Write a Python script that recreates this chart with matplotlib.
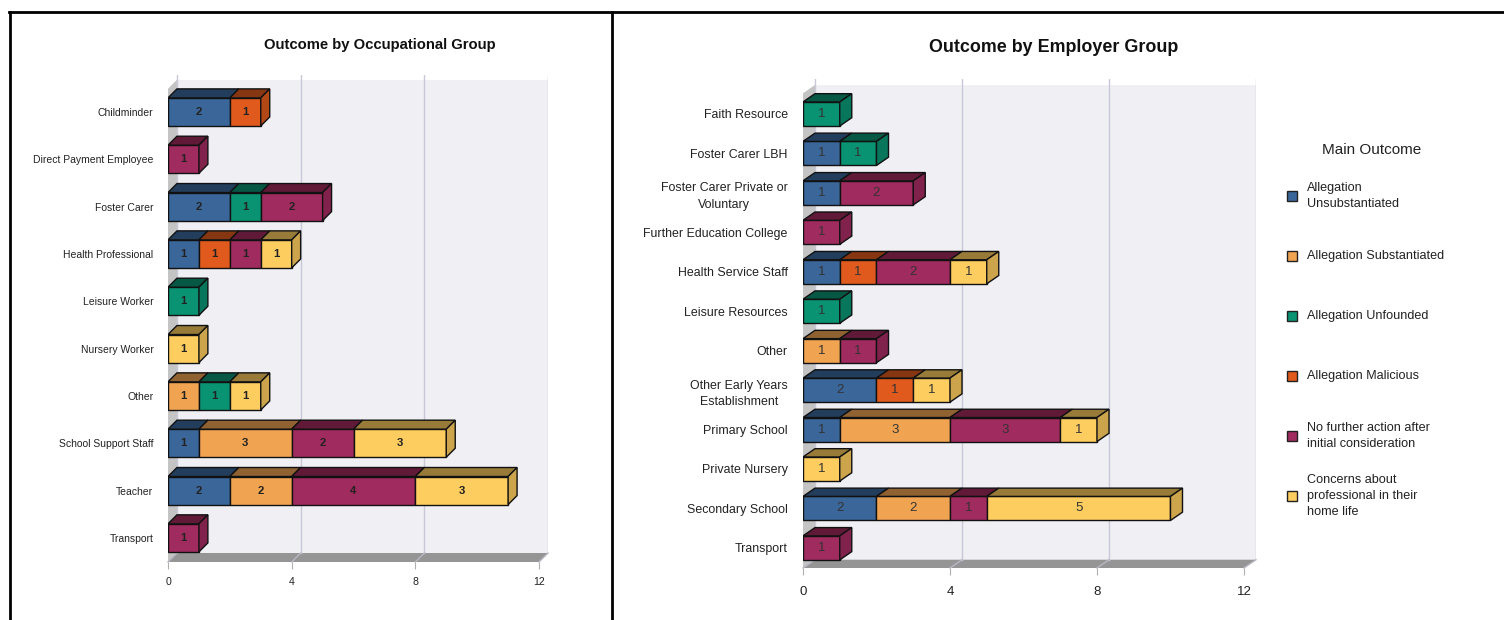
import numpy as np
import matplotlib.pyplot as plt
from matplotlib.patches import Polygon, Rectangle
from matplotlib.lines import Line2D

# dati: Outcome by Occupational Group
occ_groups = ["Childminder", "Direct Payment Employee", "Foster Carer", "Health Professional",
              "Leisure Worker", "Nursery Worker", "Other", "School Support Staff", "Teacher", "Transport"]
occ_unsub = [2, 0, 2, 1, 0, 0, 0, 1, 2, 0]
occ_subst = [0, 0, 0, 0, 0, 0, 1, 3, 2, 0]
occ_unfound = [0, 0, 1, 0, 1, 0, 1, 0, 0, 0]
occ_malic = [1, 0, 0, 1, 0, 0, 0, 0, 0, 0]
occ_nfa = [0, 1, 2, 1, 0, 0, 0, 2, 4, 1]
occ_home = [0, 0, 0, 1, 0, 1, 1, 3, 3, 0]

# dati: Outcome by Employer Group
emp_groups = ["Faith Resource", "Foster Carer LBH", "Foster Carer Private or\nVoluntary",
              "Further Education College", "Health Service Staff", "Leisure Resources", "Other",
              "Other Early Years\nEstablishment", "Primary School", "Private Nursery",
              "Secondary School", "Transport"]
emp_unsub = [0, 1, 1, 0, 1, 0, 0, 2, 1, 0, 2, 0]
emp_subst = [0, 0, 0, 0, 0, 0, 1, 0, 3, 0, 2, 0]
emp_unfound = [1, 1, 0, 0, 0, 1, 0, 0, 0, 0, 0, 0]
emp_malic = [0, 0, 0, 0, 1, 0, 0, 1, 0, 0, 0, 0]
emp_nfa = [0, 0, 2, 1, 2, 0, 1, 0, 3, 0, 1, 1]
emp_home = [0, 0, 0, 0, 1, 0, 0, 1, 1, 1, 5, 0]

outcomes = ["Allegation\nUnsubstantiated", "Allegation Substantiated", "Allegation Unfounded",
            "Allegation Malicious", "No further action after\ninitial consideration",
            "Concerns about\nprofessional in their\nhome life"]
x_ticks = [0, 4, 8, 12]

colors = ["#3b6699", "#f0a452", "#0a9372", "#e05a1d", "#a02b5e", "#fecd5f"]

plt.rcParams['font.family'] = ["Liberation Sans", "DejaVu Sans"]

W, H = 1504, 620
fig = plt.figure(figsize=(W / 100, H / 100), dpi=100)


def shade(c, f):
    r, g, b = [int(c[i:i + 2], 16) / 255 for i in (1, 3, 5)]
    return (r * f, g * f, b * f)


def px_axes(x0, x1, y0, y1):
    return fig.add_axes([x0 / W, 1 - y1 / H, (x1 - x0) / W, (y1 - y0) / H])


def draw_panel(ax, cats, series, dx, dy, h, ytop, yfloor, gtop, fs_lab, fs_tick, fs_val, bold, pad, xpad):
    n = len(cats)
    xmax = 12
    ax.set_xlim(0, xmax + dx)
    ax.set_ylim(yfloor, gtop)
    yback = yfloor - dy
    # parete di fondo, parete sinistra, pavimento
    ax.add_patch(Rectangle((dx, ytop), xmax, yback - ytop, facecolor="#efeff4", edgecolor="none", zorder=0))
    ax.add_patch(Polygon([(0, ytop + dy), (dx, ytop), (dx, yback), (0, yfloor)],
                         facecolor="#c4c4c4", edgecolor="none", zorder=0))
    ax.add_patch(Polygon([(0, yfloor), (dx, yback), (xmax + dx, yback), (xmax, yfloor)],
                         facecolor="#959595", edgecolor="none", zorder=0, clip_on=False))
    for t in x_ticks:
        ax.plot([t + dx, t + dx], [gtop, yback], color="#c8c8d8", lw=1, zorder=1)
        ax.plot([t, t + dx], [yfloor, yback], color="#b8b8c4", lw=1, zorder=1, clip_on=False)
    # barre 3D
    for i in range(n):
        left = 0
        y0 = i - h / 2
        y1 = i + h / 2
        last = None
        for k, s in enumerate(series):
            v = s[i]
            if v == 0:
                continue
            ax.barh(i, v, left=left, height=h, color=colors[k], edgecolor="#111111", lw=1, zorder=3)
            ax.add_patch(Polygon([(left, y0), (left + v, y0), (left + v + dx, y0 - dy), (left + dx, y0 - dy)],
                                 facecolor=shade(colors[k], 0.6), edgecolor="#111111", lw=1, zorder=3))
            ax.text(left + v / 2, i, str(v), ha="center", va="center", fontsize=fs_val,
                    fontweight="bold" if bold else "normal", color="#222222" if bold else "#333333", zorder=4)
            left += v
            last = k
        if last is not None:
            ax.add_patch(Polygon([(left, y0), (left + dx, y0 - dy), (left + dx, y1 - dy), (left, y1)],
                                 facecolor=shade(colors[last], 0.8), edgecolor="#111111", lw=1, zorder=3))
    for sp in ax.spines.values():
        sp.set_visible(False)
    ax.set_yticks(range(n))
    ax.set_yticklabels(cats, fontsize=fs_lab, color="#222222")
    for lab in ax.get_yticklabels():
        lab.set_multialignment("center")
        lab.set_linespacing(1.5)
    ax.tick_params(axis="y", length=0, pad=pad)
    ax.set_xticks(x_ticks)
    ax.set_xticklabels([str(t) for t in x_ticks], fontsize=fs_tick, color="#222222")
    ax.tick_params(axis="x", length=5, color="#b0b0b0", pad=xpad)
    ax.patch.set_visible(False)


occ_series = [occ_unsub, occ_subst, occ_unfound, occ_malic, occ_nfa, occ_home]
emp_series = [emp_unsub, emp_subst, emp_unfound, emp_malic, emp_nfa, emp_home]

# pannello sinistro: 0 -> 168 px, 30.9 px/unita, 47.3 px/riga, riga 0 a y=112
axL = px_axes(168, 548, 75, 562)
draw_panel(axL, occ_groups, occ_series, dx=0.29, dy=0.19, h=0.593,
           ytop=-0.68, yfloor=9.51, gtop=-0.78, fs_lab=7.5, fs_tick=7.6, fs_val=8.2, bold=True, pad=10.5, xpad=6)

# pannello destro: 0 -> 803 px, 36.75 px/unita, 39.45 px/riga, riga 0 a y=114
axR = px_axes(803, 1256, 79, 568)
draw_panel(axR, emp_groups, emp_series, dx=0.327, dy=0.21, h=0.61,
           ytop=-0.735, yfloor=11.51, gtop=-0.887, fs_lab=8.9, fs_tick=9.5, fs_val=9.5, bold=False, pad=11,
           xpad=8)

fig.text(380 / W, 1 - 45 / H, "Outcome by Occupational Group", ha="center", va="center",
         fontsize=10.7, fontweight="bold", color="#111111")
fig.text(1054 / W, 1 - 47 / H, "Outcome by Employer Group", ha="center", va="center",
         fontsize=12.9, fontweight="bold", color="#111111")

# legenda
fig.text(1372 / W, 1 - 150 / H, "Main Outcome", ha="center", va="center", fontsize=11, color="#222222")
leg_y = [196, 256, 316, 376, 436, 496]
for k, lab in enumerate(outcomes):
    yc = 1 - leg_y[k] / H
    fig.patches.append(Rectangle(((1292 - 5) / W, yc - 5 / H), 10 / W, 10 / H, facecolor=colors[k],
                                 edgecolor="#222222", lw=1, transform=fig.transFigure, figure=fig))
    fig.text(1307 / W, yc, lab, ha="left", va="center", fontsize=9.1, color="#222222", linespacing=1.4)

# bordi
for xs, ys in [([9, 1504], [12, 12]), ([10, 10], [12, 620]), ([612, 612], [12, 620])]:
    fig.add_artist(Line2D([x / W for x in xs], [1 - y / H for y in ys], color="black", lw=2,
                          transform=fig.transFigure))

fig.savefig("out.png", dpi=100)
